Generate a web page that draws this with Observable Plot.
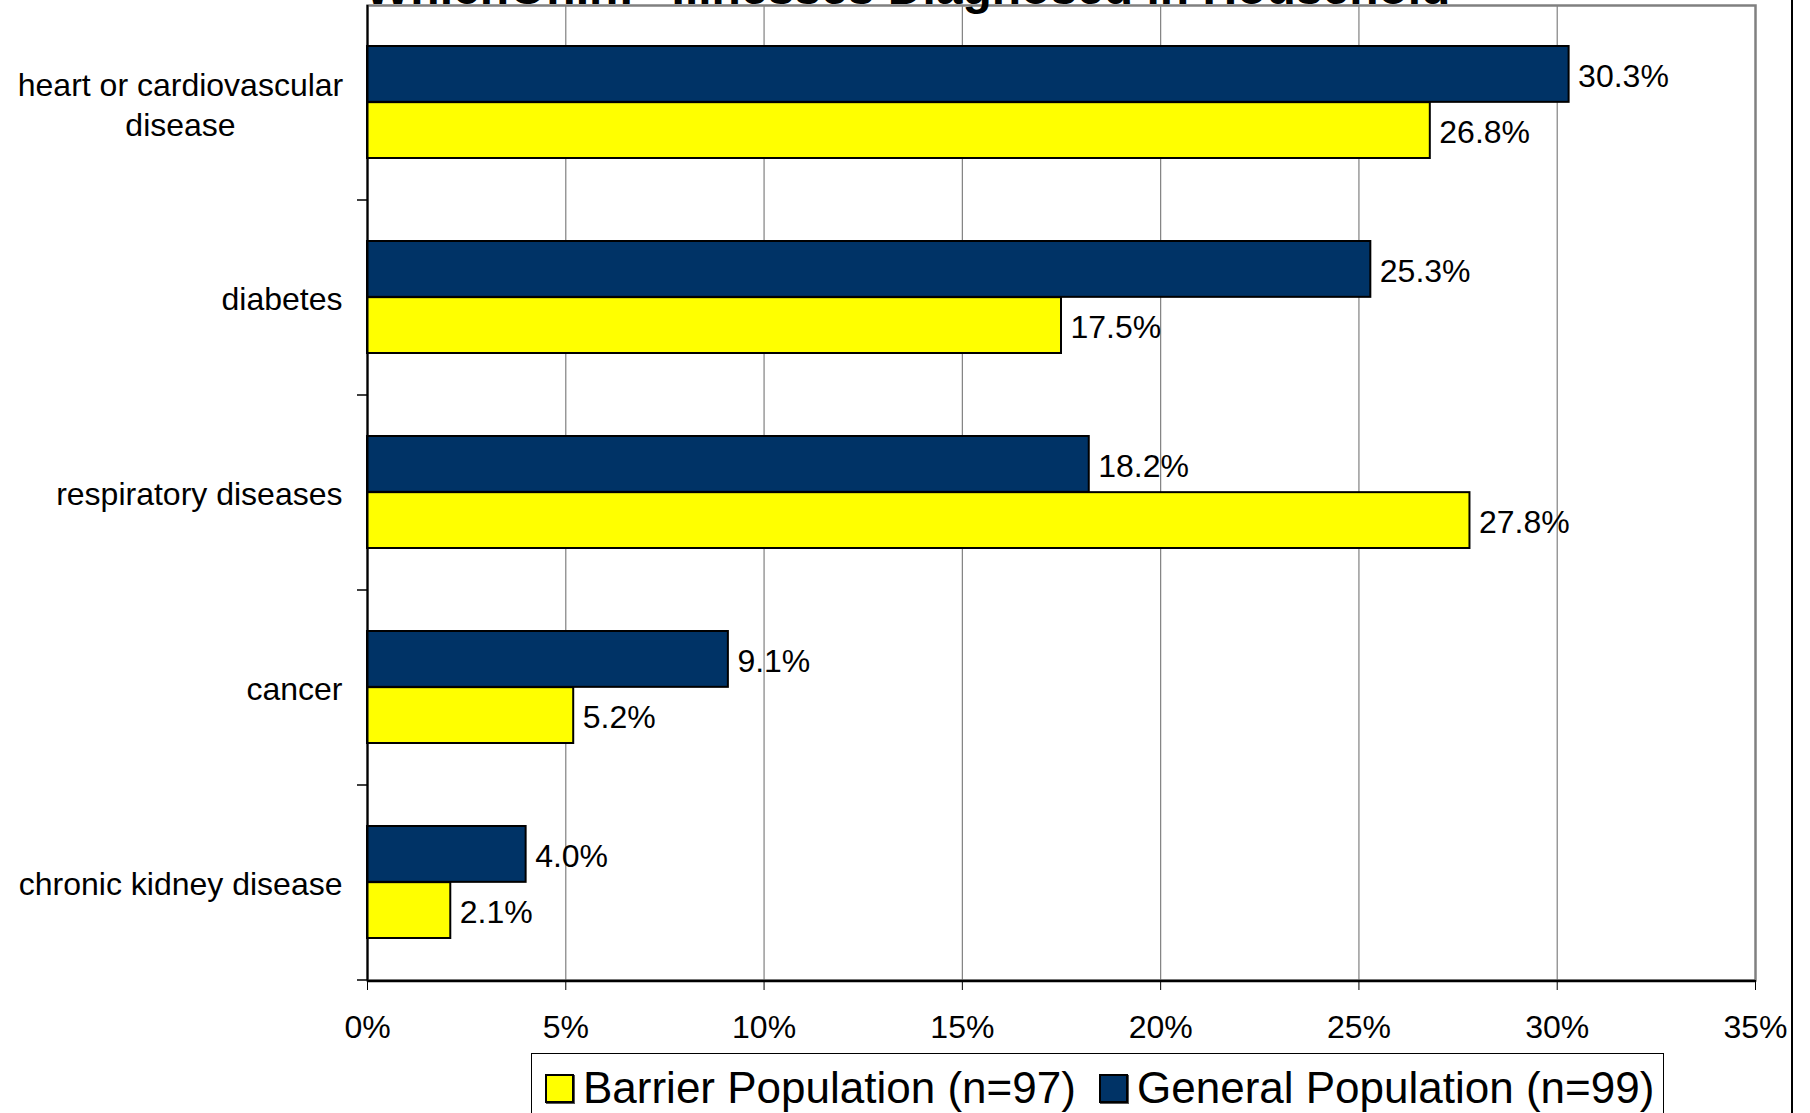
<!DOCTYPE html>
<html>
<head>
<meta charset="utf-8">
<script src="https://cdn.jsdelivr.net/npm/d3@7"></script>
<script src="https://cdn.jsdelivr.net/npm/@observablehq/plot@0.6"></script>
<style>
  html, body { margin: 0; padding: 0; background: #fff; overflow: hidden; }
  body { width: 1810px; height: 1113px; position: relative; font-family: "Liberation Sans", Arial, sans-serif; }
  #title { position: absolute; left: 365px; top: -36px; font-size: 48px; font-weight: bold; line-height: 1; white-space: nowrap; color: #000; z-index: 2; }
  #chart { position: absolute; left: 0; top: 0; }
  #legend { position: absolute; left: 531px; top: 1053px; width: 1133px; height: 80px; border: 1.5px solid #000; box-sizing: border-box; background: #fff; }
  .item { position: absolute; top: 12px; display: flex; align-items: center; font-size: 44px; line-height: 1; white-space: nowrap; }
  .sw { width: 25px; height: 25px; border: 2px solid #000; margin-right: 9px; box-shadow: 1px 1px 0 #555; }
  #edge { position: absolute; left: 1791px; top: 0; width: 2px; height: 1113px; background: #000; }
</style>
</head>
<body>
<div id="title"></div>
<div id="chart"></div>
<div id="legend"></div>
<div id="edge"></div>
<script>
const titleText = "WhichOnIn: \u201CIllnesses Diagnosed in Household\u201D";
const categories = ["heart or cardiovascular disease", "diabetes", "respiratory diseases", "cancer", "chronic kidney disease"];
const categoryLabels = ["heart or cardiovascular\ndisease", "diabetes", "respiratory diseases", "cancer", "chronic kidney disease"];
const generalValues = [30.3, 25.3, 18.2, 9.1, 4.0];
const barrierValues = [26.8, 17.5, 27.8, 5.2, 2.1];
const xTicks = [0, 5, 10, 15, 20, 25, 30, 35];
const seriesNames = ["Barrier Population (n=97)", "General Population (n=99)"];
const seriesColors = ["#FFFF00", "#003366"];

document.getElementById("title").textContent = titleText;

const general = categories.map((c, i) => ({category: c, value: generalValues[i]}));
const barrier = categories.map((c, i) => ({category: c, value: barrierValues[i]}));
const labelRows = categories.map((c, i) => ({category: c, label: categoryLabels[i]}));
const multiLabels = labelRows.filter(d => d.label.includes("\n"));
const singleLabels = labelRows.filter(d => !d.label.includes("\n"));

const W = 1810, H = 1050;
const mTop = 5, mBottom = 70, mLeft = 367, mRight = 55;
const step = (H - mTop - mBottom) / categories.length;
const bw = step * 0.576;
const half = bw / 2;
const pxPerPct = (W - mLeft - mRight) / 35;

const fmt = v => v.toFixed(1) + "%";

const chart = Plot.plot({
  width: W,
  height: H,
  marginTop: mTop,
  marginBottom: mBottom,
  marginLeft: mLeft,
  marginRight: mRight,
  style: {fontFamily: "'Liberation Sans', Arial, sans-serif", fontSize: "32px", color: "#000", background: "#fff", overflow: "visible"},
  x: {domain: [0, 35], label: null},
  y: {domain: categories, paddingInner: 0.424, paddingOuter: 0.212, axis: null},
  marks: [
    Plot.ruleX(xTicks.slice(1, -1), {stroke: "#808080", strokeWidth: 1.2}),
    Plot.frame({stroke: "#808080", strokeWidth: 2.5}),
    Plot.barX(general, {x: "value", y: "category", fill: seriesColors[1], stroke: "#000", strokeWidth: 2, insetBottom: half}),
    Plot.barX(barrier, {x: "value", y: "category", fill: seriesColors[0], stroke: "#000", strokeWidth: 2, insetTop: half}),
    Plot.text(general, {x: "value", y: "category", text: d => fmt(d.value), dx: 9, dy: -half / 2 + 2.5, textAnchor: "start", fill: "#000"}),
    Plot.text(barrier, {x: "value", y: "category", text: d => fmt(d.value), dx: 9, dy: half / 2 + 2.5, textAnchor: "start", fill: "#000"}),
    Plot.ruleX([0], {stroke: "#000", strokeWidth: 2}),
    Plot.ruleY([categories[categories.length - 1]], {dy: step / 2 + 1, stroke: "#000", strokeWidth: 2.5}),
    Plot.ruleY(categories, {dy: step / 2, x1: -10 / pxPerPct, x2: 0, stroke: "#000", strokeWidth: 1.5}),
    Plot.text(singleLabels, {y: "category", text: "label", frameAnchor: "left", textAnchor: "end", dx: -25, dy: 2.5, fill: "#000"}),
    Plot.text(multiLabels, {y: "category", text: "label", frameAnchor: "left", textAnchor: "middle", dx: -25 - 162, dy: 1, lineHeight: 1.22, fill: "#000"}),
    Plot.axisX({ticks: xTicks, tickFormat: d => d + "%", tickSize: 10, tickPadding: 25, stroke: "#000", fill: "#000", label: null})
  ]
});
document.getElementById("chart").appendChild(chart);

const legend = document.getElementById("legend");
const lefts = [13, 567];
seriesNames.forEach((name, i) => {
  const item = document.createElement("div");
  item.className = "item";
  item.style.left = lefts[i] + "px";
  const sw = document.createElement("div");
  sw.className = "sw";
  sw.style.background = seriesColors[i];
  const t = document.createElement("span");
  t.textContent = name;
  item.appendChild(sw);
  item.appendChild(t);
  legend.appendChild(item);
});
</script>
</body>
</html>
